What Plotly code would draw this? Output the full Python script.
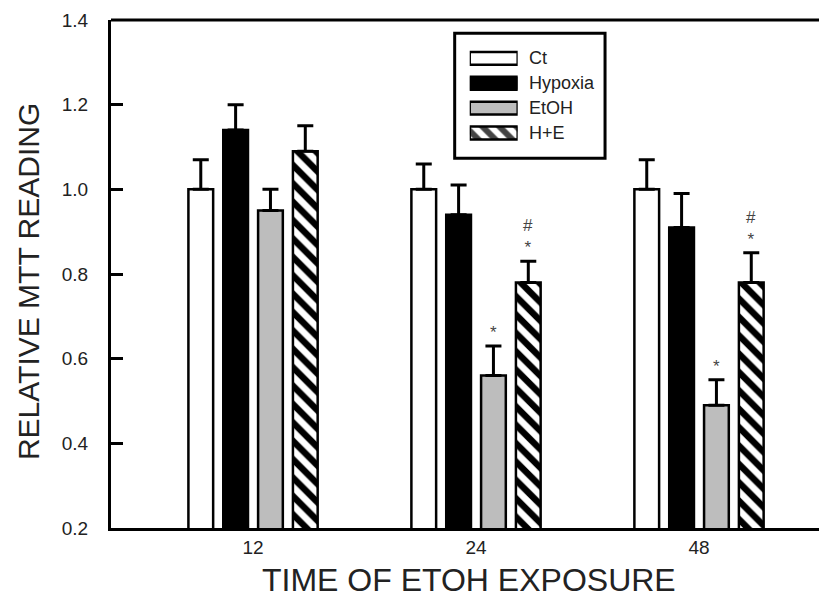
import plotly.graph_objects as go

# ---- data ----
times = ["12", "24", "48"]
series = ["Ct", "Hypoxia", "EtOH", "H+E"]
ct_vals = [1.00, 1.00, 1.00]
ct_err = [0.07, 0.06, 0.07]
hyp_vals = [1.14, 0.94, 0.91]
hyp_err = [0.06, 0.07, 0.08]
etoh_vals = [0.95, 0.56, 0.49]
etoh_err = [0.05, 0.07, 0.06]
he_vals = [1.09, 0.78, 0.78]
he_err = [0.06, 0.05, 0.07]
etoh_sig = ["", "*", "*"]
he_sig = ["", "#<br>*", "#<br>*"]
y_ticks = [0.2, 0.4, 0.6, 0.8, 1.0, 1.2, 1.4]

FONT = "Liberation Sans, Arial, sans-serif"
TXT = "#222"

colors = ["white", "black", "#bdbdbd", "white"]
patterns = ["", "", "", "\\"]
values = [ct_vals, hyp_vals, etoh_vals, he_vals]
errors = [ct_err, hyp_err, etoh_err, he_err]

BARGAP = 0.375
BARGROUPGAP = 0.29

# the page body has an 8px margin; compensate so the figure fills the window
PAD = 8
W, H = 827 - PAD, 599 - PAD

fig = go.Figure()
for name, v, e, c, p in zip(series, values, errors, colors, patterns):
    fig.add_trace(go.Bar(
        x=times, y=v, name=name, showlegend=False,
        marker=dict(color=c, line=dict(color="black", width=2.5),
                    pattern=dict(shape=p, fgcolor="black", bgcolor="white",
                                 fgopacity=1, size=13, solidity=0.5)
                    if p else None),
        error_y=dict(type="data", symmetric=False, array=e,
                     arrayminus=[0] * len(e), color="black",
                     thickness=3, width=8),
    ))

# significance marks (positions derived from bar layout)
slot = (1 - BARGAP) / len(series)
def offset(i):
    return (i - (len(series) - 1) / 2) * slot

SIGFONT = dict(family=FONT, size=17, color="#444")
for k in range(len(times)):
    for idx, vals, errs, sig in ((2, etoh_vals, etoh_err, etoh_sig),
                                 (3, he_vals, he_err, he_sig)):
        if sig[k]:
            fig.add_annotation(x=k + offset(idx), y=vals[k] + errs[k],
                               xref="x", yref="y", text=sig[k],
                               showarrow=False, yanchor="bottom",
                               xanchor="center", yshift=2, font=SIGFONT)

# custom legend (swatches drawn as a bar trace on its own small axes)
fig.add_trace(go.Bar(
    x=[1] * len(series), y=series, orientation="h", xaxis="x2", yaxis="y2",
    width=0.52, showlegend=False, hoverinfo="skip",
    marker=dict(color=colors, line=dict(color="black", width=2.5),
                pattern=dict(shape=patterns, fgcolor="black", bgcolor="white",
                             fgopacity=1, size=12, solidity=0.5)),
))
for name in series:
    fig.add_annotation(x=0.581, y=name, xref="paper", yref="y2", text=name,
                       showarrow=False, xanchor="left", yanchor="middle",
                       font=dict(family=FONT, size=18, color=TXT))

# axis titles
fig.add_annotation(x=-0.116, y=0.486, xref="paper", yref="paper",
                   text="RELATIVE MTT READING", textangle=-90, showarrow=False,
                   xanchor="center", yanchor="middle",
                   font=dict(family=FONT, size=30, color=TXT))
fig.add_annotation(x=0.5, y=-0.102, xref="paper", yref="paper",
                   text="TIME OF ETOH EXPOSURE", showarrow=False,
                   xanchor="center", yanchor="middle",
                   font=dict(family=FONT, size=32, color=TXT))

# right-side inner ticks
fig.add_trace(go.Scatter(x=[None], y=[None], yaxis="y3", showlegend=False))

fig.update_layout(
    width=W, height=H,
    margin=dict(l=111 - PAD, r=0, t=20 - PAD, b=71, autoexpand=False),
    paper_bgcolor="white", plot_bgcolor="white",
    barmode="group", bargap=BARGAP, bargroupgap=BARGROUPGAP,
    font=dict(family=FONT, color=TXT),
    xaxis=dict(type="category", categoryorder="array", categoryarray=times,
               range=[-0.637, 2.574], showline=True, linecolor="black",
               linewidth=3, ticks="", showgrid=False, zeroline=False,
               automargin=False,
               tickfont=dict(size=19, color=TXT), ticklabelstandoff=0),
    yaxis=dict(range=[0.2, 1.4], tickvals=y_ticks, tickformat=".1f",
               showline=True, linecolor="black", linewidth=3,
               ticks="inside", ticklen=12, tickwidth=2.5, tickcolor="black",
               showgrid=False, zeroline=False, automargin=False,
               tickfont=dict(size=19, color=TXT), ticklabelstandoff=16),
    yaxis3=dict(range=[0.2, 1.4], tickvals=y_ticks, overlaying="y",
                side="right", anchor="x", ticks="inside", ticklen=5,
                tickwidth=3, tickcolor="black", showticklabels=False,
                showline=False, showgrid=False, zeroline=False,
                automargin=False),
    xaxis2=dict(domain=[0.501, 0.568], range=[0, 1], anchor="y2",
                visible=False, fixedrange=True),
    yaxis2=dict(domain=[0.753, 0.949], anchor="x2", type="category",
                categoryorder="array", categoryarray=series,
                autorange="reversed", visible=False, fixedrange=True),
    shapes=[
        dict(type="line", xref="paper", yref="paper", x0=0, x1=1, y0=1, y1=1,
             line=dict(color="black", width=3)),
        dict(type="rect", xref="paper", yref="paper", x0=0.480, x1=0.690,
             y0=0.728, y1=0.974, line=dict(color="black", width=3),
             fillcolor="rgba(0,0,0,0)", layer="below"),
    ],
)

fig.write_html("out.html")
